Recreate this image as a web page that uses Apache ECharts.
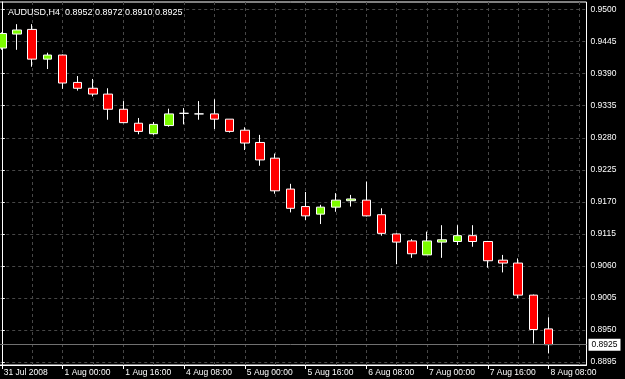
<!DOCTYPE html>
<html>
<head>
<meta charset="utf-8">
<script src="https://cdn.jsdelivr.net/npm/echarts@6/dist/echarts.min.js"></script>
<style>
  html, body { margin: 0; padding: 0; background: #000; overflow: hidden; }
  #wrap { position: relative; width: 625px; height: 379px; overflow: hidden; background: #000; }
  #chart { position: absolute; left: -8px; top: 0; width: 633px; height: 379px; }
</style>
</head>
<body>
<div id="wrap"><div id="chart"></div></div>
<script>
// ---- data (AUDUSD, H4) ----
const categories = [
  '31 Jul 2008', '31 Jul 12:00', '31 Jul 16:00', '31 Jul 20:00',
  '1 Aug 00:00', '1 Aug 04:00', '1 Aug 08:00', '1 Aug 12:00',
  '1 Aug 16:00', '1 Aug 20:00', '4 Aug 00:00', '4 Aug 04:00',
  '4 Aug 08:00', '4 Aug 12:00', '4 Aug 16:00', '4 Aug 20:00',
  '5 Aug 00:00', '5 Aug 04:00', '5 Aug 08:00', '5 Aug 12:00',
  '5 Aug 16:00', '5 Aug 20:00', '6 Aug 00:00', '6 Aug 04:00',
  '6 Aug 08:00', '6 Aug 12:00', '6 Aug 16:00', '6 Aug 20:00',
  '7 Aug 00:00', '7 Aug 04:00', '7 Aug 08:00', '7 Aug 12:00',
  '7 Aug 16:00', '7 Aug 20:00', '8 Aug 00:00', '8 Aug 04:00',
  '8 Aug 08:00', '', ''
];
const opens  = [0.9434, 0.9458, 0.9466, 0.9415, 0.9422, 0.9375, 0.9365, 0.9355, 0.9329, 0.9305,
                0.9287, 0.9301, 0.9322, 0.9321, 0.9321, 0.9312, 0.9293, 0.9272, 0.9245, 0.9192,
                0.9162, 0.9149, 0.9161, 0.9172, 0.9173, 0.9148, 0.9115, 0.9103, 0.9079, 0.9101,
                0.9102, 0.9112, 0.9102, 0.9070, 0.9065, 0.9010, 0.8952];
const highs  = [0.9461, 0.9475, 0.9475, 0.9426, 0.9423, 0.9386, 0.9381, 0.9365, 0.9343, 0.9314,
                0.9307, 0.9330, 0.9331, 0.9343, 0.9346, 0.9312, 0.9298, 0.9285, 0.9253, 0.9201,
                0.9187, 0.9165, 0.9185, 0.9182, 0.9205, 0.9159, 0.9116, 0.9106, 0.9119, 0.9130,
                0.9130, 0.9130, 0.9103, 0.9079, 0.9073, 0.9011, 0.8972];
const lows   = [0.9431, 0.9431, 0.9402, 0.9398, 0.9364, 0.9361, 0.9351, 0.9311, 0.9305, 0.9286,
                0.9285, 0.9299, 0.9303, 0.9311, 0.9295, 0.9289, 0.9259, 0.9232, 0.9184, 0.9152,
                0.9139, 0.9132, 0.9153, 0.9162, 0.9145, 0.9112, 0.9063, 0.9074, 0.9079, 0.9074,
                0.9096, 0.9093, 0.9057, 0.9049, 0.9005, 0.8927, 0.8910];
const closes = [0.9459, 0.9465, 0.9415, 0.9422, 0.9374, 0.9365, 0.9355, 0.9329, 0.9306, 0.9291,
                0.9303, 0.9321, 0.9322, 0.9321, 0.9312, 0.9291, 0.9271, 0.9242, 0.9189, 0.9159,
                0.9146, 0.9161, 0.9173, 0.9175, 0.9146, 0.9116, 0.9101, 0.9081, 0.9103, 0.9105,
                0.9112, 0.9102, 0.9069, 0.9065, 0.9010, 0.8951, 0.8925];
const priceTicks = [0.8895, 0.8950, 0.9005, 0.9060, 0.9115, 0.9170, 0.9225, 0.9280, 0.9335, 0.9390, 0.9445, 0.9500];
const vGridIdx = [0, 2, 4, 6, 8, 10, 12, 14, 16, 18, 20, 22, 24, 26, 28, 30, 32, 34, 36, 38];
const symbolName = 'AUDUSD,H4';

// ---- build ----
const n = opens.length;
const last = n - 1;
const candleData = opens.map((o, i) => [o, closes[i], lows[i], highs[i]]);
const titleText = symbolName + '  ' + [opens[last], highs[last], lows[last], closes[last]].map(v => v.toFixed(4)).join(' ');
const FONT = "'Liberation Sans', Arial, sans-serif";
const gridColor = '#474747';
const SHIFT = 8; // chart canvas starts 8px left of the page

const chart = echarts.init(document.getElementById('chart'), null, { renderer: 'canvas' });
chart.setOption({
  animation: false,
  backgroundColor: '#000000',
  title: {
    text: titleText,
    left: 3 + SHIFT, top: 3,
    textStyle: { color: '#ffffff', fontSize: 9, fontWeight: 'normal', fontFamily: FONT }
  },
  grid: {
    left: 2.2, right: 38.5, top: 2, bottom: 14,
    show: true, borderColor: '#ffffff', borderWidth: 1, backgroundColor: 'transparent'
  },
  xAxis: [
    {
      type: 'category',
      data: categories,
      boundaryGap: true,
      axisLine: { show: true, lineStyle: { color: '#ffffff', width: 1 } },
      axisTick: { show: true, interval: 3, alignWithLabel: true, length: 4, lineStyle: { color: '#ffffff' } },
      axisLabel: {
        interval: 3, align: 'left', color: '#ffffff', fontSize: 8.5, fontFamily: FONT,
        margin: 3, padding: [0, 0, 0, 2]
      },
      splitLine: { show: false }
    },
    {
      type: 'value',
      position: 'top',
      min: -0.5, max: categories.length - 0.5,
      axisLine: { show: false },
      axisTick: { show: false, customValues: vGridIdx },
      axisLabel: { show: false, customValues: vGridIdx },
      splitLine: { show: true, lineStyle: { color: gridColor, type: [3, 3], width: 1 } }
    }
  ],
  yAxis: {
    type: 'value',
    position: 'right',
    min: 0.889008, max: 0.951304,
    axisLine: { show: true, lineStyle: { color: '#ffffff', width: 1 } },
    axisTick: { show: true, length: 3, customValues: priceTicks, lineStyle: { color: '#ffffff' } },
    axisLabel: {
      customValues: priceTicks,
      color: '#ffffff', fontSize: 8.5, fontFamily: FONT, margin: 4,
      formatter: v => v.toFixed(4)
    },
    splitLine: { show: true, lineStyle: { color: gridColor, type: [3, 3], width: 1 } }
  },
  series: [{
    type: 'candlestick',
    xAxisIndex: 0, yAxisIndex: 0,
    data: candleData,
    barWidth: 9,
    itemStyle: {
      color: '#7CFC00', color0: '#FF0000',
      borderColor: '#ffffff', borderColor0: '#ffffff', borderColorDoji: '#ffffff',
      borderWidth: 1
    },
    markLine: {
      silent: true,
      precision: 4,
      symbol: ['none', 'none'],
      animation: false,
      lineStyle: { color: '#707070', type: 'solid', width: 1 },
      label: {
        position: 'end', distance: 2,
        formatter: p => Number(p.value).toFixed(4),
        color: '#000000', backgroundColor: '#ffffff',
        fontSize: 8.5, fontFamily: FONT, padding: [2, 3, 1, 3]
      },
      emphasis: { disabled: true },
      data: [{ yAxis: closes[last] }]
    }
  }]
});
</script>
</body>
</html>
